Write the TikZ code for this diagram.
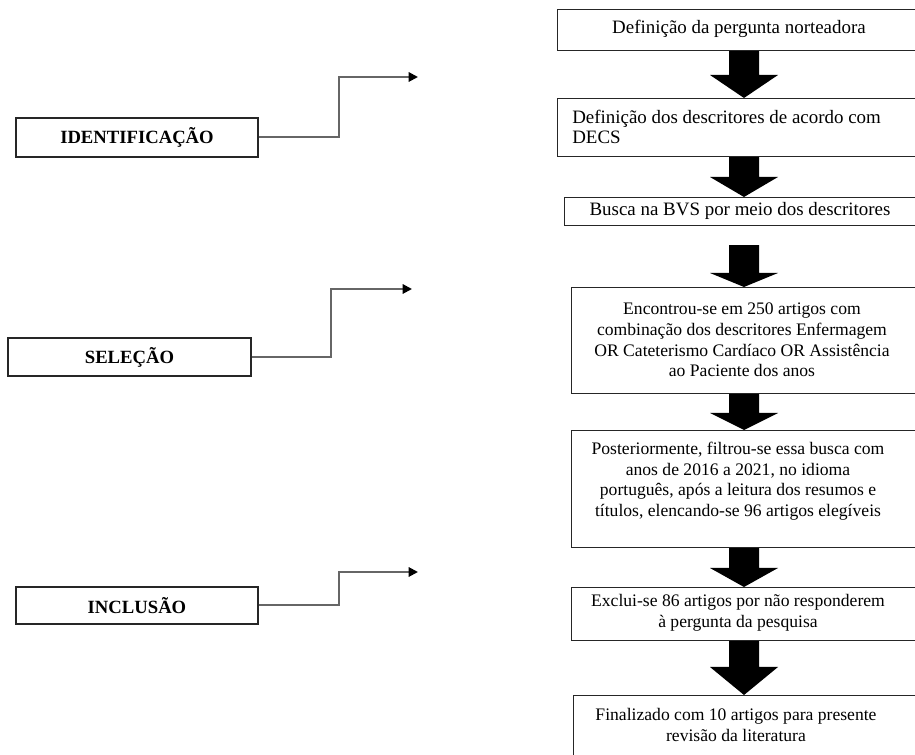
\documentclass[tikz,border=0pt]{standalone}
\usepackage{fontspec}
\setmainfont{Liberation Serif}
\usetikzlibrary{calc,arrows.meta}
\tikzset{
  flowbox/.style={draw=black!85, line width=0.9pt, rectangle, inner sep=0pt, anchor=north west},
  bodytxt/.style={font=\fontsize{14.2}{15.4}\selectfont, align=center, inner sep=0pt},
  smalltxt/.style={bodytxt, font=\fontsize{13.2}{15.4}\selectfont},
  lbl/.style={draw=black!85, line width=0.9pt, rectangle, inner sep=0pt, font=\fontsize{14}{16}\selectfont\bfseries},
  conn/.style={draw=black!60, line width=1.5pt, -{Triangle[length=7pt,width=7pt,color=black]}}
}
% #1 from node, #2 to node, #3 head length (px), #4 gap below source (px)
\newcommand\blockarr[4]{%
  \fill[black] ($(#1.south -| axis)+(-15,#4)$) -- ($(#1.south -| axis)+(15,#4)$)
    -- ($(#2.north -| axis)+(15,-#3)$) -- ($(#2.north -| axis)+(34,-#3)$)
    -- (#2.north -| axis) -- ($(#2.north -| axis)+(-34,-#3)$)
    -- ($(#2.north -| axis)+(-15,-#3)$) -- cycle;}
\begin{document}
\begin{tikzpicture}[x=0.75pt,y=-0.75pt]
\useasboundingbox (0,0) rectangle (915,755);
\clip (0,0) rectangle (915,755);
\coordinate (axis) at (744,0);

% right column boxes
\node[flowbox, minimum width={373*0.75pt}, minimum height={41*0.75pt}] (b1) at (557,9) {};
\node[flowbox, minimum width={373*0.75pt}, minimum height={58*0.75pt}] (b2) at (557,98) {};
\node[flowbox, minimum width={366*0.75pt}, minimum height={28*0.75pt}] (b3) at (564,197) {};
\node[flowbox, minimum width={359*0.75pt}, minimum height={106*0.75pt}] (b4) at (571,287) {};
\node[flowbox, minimum width={359*0.75pt}, minimum height={117*0.75pt}] (b5) at (571,430) {};
\node[flowbox, minimum width={359*0.75pt}, minimum height={53*0.75pt}] (b6) at (571,587) {};
\node[flowbox, minimum width={357*0.75pt}, minimum height={80*0.75pt}] (b7) at (573,695) {};

% texts
\node[bodytxt] (t1) at (739,29) {Definição da pergunta norteadora};
\node[bodytxt, align=left, anchor=west] (t2) at (572,127) {Definição dos descritores de acordo com\\DECS};
\node[bodytxt] (t3) at (740,211) {Busca na BVS por meio dos descritores};
\node[smalltxt] (t4) at (742,340) {Encontrou-se em 250 artigos com\\combinação dos descritores Enfermagem\\OR Cateterismo Cardíaco OR Assistência\\ao Paciente dos anos};
\node[smalltxt] (t5) at (738,481) {Posteriormente, filtrou-se essa busca com\\anos de 2016 a 2021, no idioma\\português, após a leitura dos resumos e\\títulos, elencando-se 96 artigos elegíveis};
\node[smalltxt] (t6) at (738,613) {Exclui-se 86 artigos por não responderem\\à pergunta da pesquisa};
\node[smalltxt] (t7) at (736,725) {Finalizado com 10 artigos para presente\\revisão da literatura};

% block arrows
\blockarr{b1}{b2}{23}{0}
\blockarr{b2}{b3}{20}{0}
\blockarr{b3}{b4}{14}{19}
\blockarr{b4}{b5}{17}{0}
\blockarr{b5}{b6}{19}{0}
\blockarr{b6}{b7}{28}{0}

% left labels
\node[lbl, minimum width={242*0.75pt}, minimum height={39*0.75pt}] (id) at (137,137.5) {IDENTIFICAÇÃO};
\node[lbl, minimum width={243*0.75pt}, minimum height={38*0.75pt}] (se) at (129.5,357) {SELEÇÃO};
\node[lbl, minimum width={242*0.75pt}, minimum height={37*0.75pt}] (in) at (137,605.5) {INCLUSÃO};

\coordinate (k1) at (339,77);  \coordinate (e1) at (418,77);
\coordinate (k2) at (331,289); \coordinate (e2) at (412,289);
\coordinate (k3) at (339,572); \coordinate (e3) at (418,572);
\draw[conn] (id.east) -| (k1) -- (e1);
\draw[conn] (se.east) -| (k2) -- (e2);
\draw[conn] (in.east) -| (k3) -- (e3);
\end{tikzpicture}
\end{document}
